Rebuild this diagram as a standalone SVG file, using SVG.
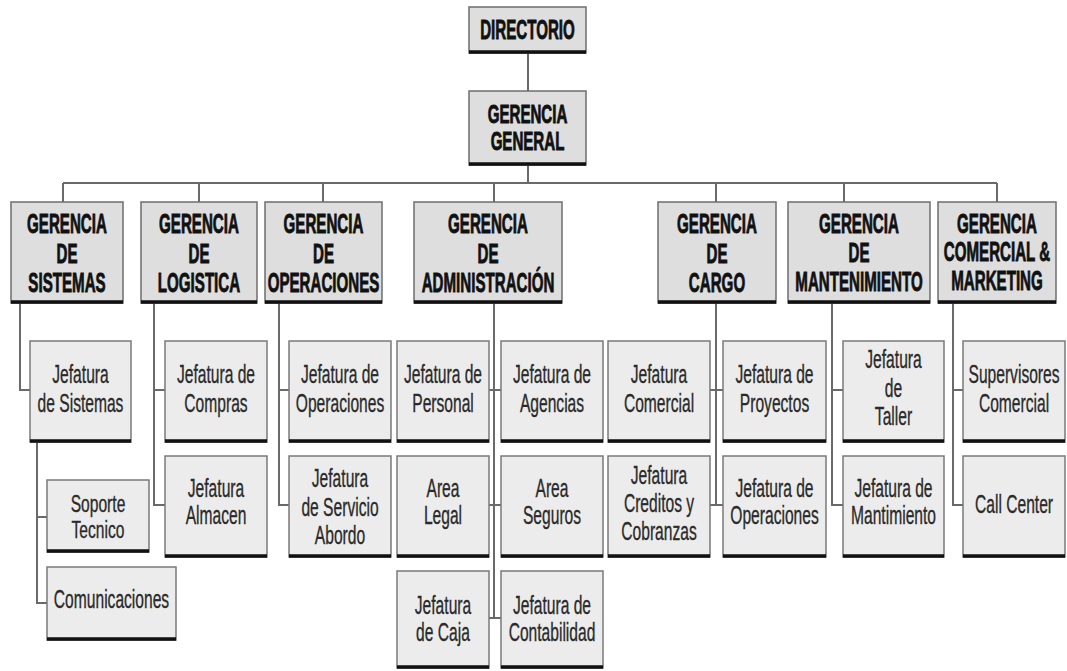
<svg xmlns="http://www.w3.org/2000/svg" width="1067" height="671" viewBox="0 0 1067 671">
<style>
.bg{fill:#ffffff}
.b1{fill:#dedede;stroke:#6e6e6e;stroke-width:1.5}
.b3{fill:#ececec;stroke:#7a7a7a;stroke-width:1.5}
.sh{stroke:#111;stroke-width:3.5;fill:none}
.ln{stroke:#6a6a6a;stroke-width:2;fill:none}
.h{font-family:"Liberation Sans",Arial,sans-serif;font-weight:bold;font-size:28px;fill:#111;stroke:#111;stroke-width:0.9;text-anchor:middle}
.t{font-family:"Liberation Sans",Arial,sans-serif;font-size:26px;fill:#2a2a2a;stroke:#2a2a2a;stroke-width:0.35;text-anchor:middle}
.s{font-size:26px}
.xs{font-size:24px}
</style>
<rect class="bg" x="0" y="0" width="1067" height="671"/>
<g id="connectors">
<path class="ln" d="M528 53V91M528 165V183M63 183H997M63 183V202M199 183V202M323 183V202M494 183V202M716 183V202M844 183V202M997 183V202"/>
<path class="ln" d="M20 303V390H30"/>
<path class="ln" d="M37 442V603H47M37 517H47"/>
<path class="ln" d="M154 303V505H165M154 390H165"/>
<path class="ln" d="M279 303V505H289M279 390H289"/>
<path class="ln" d="M494 303V618M489 390H501M489 505H501M489 618H501"/>
<path class="ln" d="M716 303V505M710 390H723M710 505H723"/>
<path class="ln" d="M832 303V505H843M832 390H843"/>
<path class="ln" d="M953 303V505H963M953 390H963"/>
</g>
<g id="directorio">
<rect class="b1" x="469" y="7" width="117" height="46"/><path class="sh" d="M469 52H586"/>
<text class="h" transform="translate(527.5 0) scale(0.54 1)" y="39">DIRECTORIO</text>
</g>
<g id="gerencia-general">
<rect class="b1" x="469" y="91" width="117" height="74"/><path class="sh" d="M469 164H586"/>
<text class="h s" transform="translate(527.5 0) scale(0.58 1)"><tspan x="0" y="123">GERENCIA</tspan><tspan x="0" y="150">GENERAL</tspan></text>
</g>
<g id="g-sistemas">
<rect class="b1" x="11" y="202" width="112" height="101"/><path class="sh" d="M11 302H123"/>
<text class="h" transform="translate(67 0) scale(0.54 1)"><tspan x="0" y="233">GERENCIA</tspan><tspan x="0" y="263">DE</tspan><tspan x="0" y="292">SISTEMAS</tspan></text>
</g>
<g id="g-logistica">
<rect class="b1" x="141" y="202" width="116" height="101"/><path class="sh" d="M141 302H257"/>
<text class="h" transform="translate(199 0) scale(0.54 1)"><tspan x="0" y="233">GERENCIA</tspan><tspan x="0" y="263">DE</tspan><tspan x="0" y="292">LOGISTICA</tspan></text>
</g>
<g id="g-operaciones">
<rect class="b1" x="265" y="202" width="117" height="101"/><path class="sh" d="M265 302H382"/>
<text class="h" transform="translate(323.5 0) scale(0.54 1)"><tspan x="0" y="233">GERENCIA</tspan><tspan x="0" y="263">DE</tspan><tspan x="0" y="292">OPERACIONES</tspan></text>
</g>
<g id="g-administracion">
<rect class="b1" x="414" y="202" width="148" height="101"/><path class="sh" d="M414 302H562"/>
<text class="h" transform="translate(488 0) scale(0.54 1)"><tspan x="0" y="233">GERENCIA</tspan><tspan x="0" y="263">DE</tspan><tspan x="0" y="292">ADMINISTRACIÓN</tspan></text>
</g>
<g id="g-cargo">
<rect class="b1" x="658" y="202" width="118" height="101"/><path class="sh" d="M658 302H776"/>
<text class="h" transform="translate(717 0) scale(0.54 1)"><tspan x="0" y="233">GERENCIA</tspan><tspan x="0" y="263">DE</tspan><tspan x="0" y="292">CARGO</tspan></text>
</g>
<g id="g-mantenimiento">
<rect class="b1" x="788" y="202" width="142" height="101"/><path class="sh" d="M788 302H930"/>
<text class="h" transform="translate(859 0) scale(0.54 1)"><tspan x="0" y="233">GERENCIA</tspan><tspan x="0" y="262">DE</tspan><tspan x="0" y="291">MANTENIMIENTO</tspan></text>
</g>
<g id="g-comercial">
<rect class="b1" x="938" y="202" width="118" height="101"/><path class="sh" d="M938 302H1056"/>
<text class="h" transform="translate(997 0) scale(0.54 1)"><tspan x="0" y="233">GERENCIA</tspan><tspan x="0" y="261">COMERCIAL &amp;</tspan><tspan x="0" y="290">MARKETING</tspan></text>
</g>
<g id="j-sistemas">
<rect class="b3" x="30" y="341" width="101" height="101"/><path class="sh" d="M30 441H131"/>
<text class="t" transform="translate(80.5 0) scale(0.6 1)"><tspan x="0" y="383">Jefatura</tspan><tspan x="0" y="412">de Sistemas</tspan></text>
</g>
<g id="soporte-tecnico">
<rect class="b3" x="47" y="480" width="102" height="72"/><path class="sh" d="M47 551H149"/>
<text class="t xs" transform="translate(98 0) scale(0.65 1)"><tspan x="0" y="512">Soporte</tspan><tspan x="0" y="538">Tecnico</tspan></text>
</g>
<g id="comunicaciones">
<rect class="b3" x="47" y="567" width="129" height="73"/><path class="sh" d="M47 639H176"/>
<text class="t" transform="translate(111.5 0) scale(0.6 1)" y="608">Comunicaciones</text>
</g>
<g id="j-compras">
<rect class="b3" x="165" y="341" width="102" height="101"/><path class="sh" d="M165 441H267"/>
<text class="t" transform="translate(216 0) scale(0.6 1)"><tspan x="0" y="383">Jefatura de</tspan><tspan x="0" y="412">Compras</tspan></text>
</g>
<g id="j-almacen">
<rect class="b3" x="165" y="456" width="102" height="101"/><path class="sh" d="M165 556H267"/>
<text class="t" transform="translate(216 0) scale(0.6 1)"><tspan x="0" y="497">Jefatura</tspan><tspan x="0" y="524">Almacen</tspan></text>
</g>
<g id="j-operaciones">
<rect class="b3" x="289" y="341" width="102" height="101"/><path class="sh" d="M289 441H391"/>
<text class="t" transform="translate(340 0) scale(0.6 1)"><tspan x="0" y="383">Jefatura de</tspan><tspan x="0" y="412">Operaciones</tspan></text>
</g>
<g id="j-servicio-abordo">
<rect class="b3" x="289" y="456" width="102" height="101"/><path class="sh" d="M289 556H391"/>
<text class="t" transform="translate(340 0) scale(0.6 1)"><tspan x="0" y="487">Jefatura</tspan><tspan x="0" y="516">de Servicio</tspan><tspan x="0" y="544">Abordo</tspan></text>
</g>
<g id="j-personal">
<rect class="b3" x="397" y="341" width="92" height="101"/><path class="sh" d="M397 441H489"/>
<text class="t" transform="translate(443 0) scale(0.6 1)"><tspan x="0" y="383">Jefatura de</tspan><tspan x="0" y="412">Personal</tspan></text>
</g>
<g id="area-legal">
<rect class="b3" x="397" y="456" width="92" height="101"/><path class="sh" d="M397 556H489"/>
<text class="t" transform="translate(443 0) scale(0.6 1)"><tspan x="0" y="497">Area</tspan><tspan x="0" y="524">Legal</tspan></text>
</g>
<g id="j-caja">
<rect class="b3" x="397" y="571" width="92" height="97"/><path class="sh" d="M397 667H489"/>
<text class="t" transform="translate(443 0) scale(0.6 1)"><tspan x="0" y="614">Jefatura</tspan><tspan x="0" y="641">de Caja</tspan></text>
</g>
<g id="j-agencias">
<rect class="b3" x="501" y="341" width="102" height="101"/><path class="sh" d="M501 441H603"/>
<text class="t" transform="translate(552 0) scale(0.6 1)"><tspan x="0" y="383">Jefatura de</tspan><tspan x="0" y="412">Agencias</tspan></text>
</g>
<g id="area-seguros">
<rect class="b3" x="501" y="456" width="102" height="101"/><path class="sh" d="M501 556H603"/>
<text class="t" transform="translate(552 0) scale(0.6 1)"><tspan x="0" y="497">Area</tspan><tspan x="0" y="524">Seguros</tspan></text>
</g>
<g id="j-contabilidad">
<rect class="b3" x="501" y="571" width="102" height="97"/><path class="sh" d="M501 667H603"/>
<text class="t" transform="translate(552 0) scale(0.6 1)"><tspan x="0" y="614">Jefatura de</tspan><tspan x="0" y="641">Contabilidad</tspan></text>
</g>
<g id="j-comercial">
<rect class="b3" x="608" y="341" width="102" height="101"/><path class="sh" d="M608 441H710"/>
<text class="t" transform="translate(659 0) scale(0.6 1)"><tspan x="0" y="383">Jefatura</tspan><tspan x="0" y="412">Comercial</tspan></text>
</g>
<g id="j-creditos">
<rect class="b3" x="608" y="456" width="102" height="101"/><path class="sh" d="M608 556H710"/>
<text class="t" transform="translate(659 0) scale(0.6 1)"><tspan x="0" y="484">Jefatura</tspan><tspan x="0" y="512">Creditos y</tspan><tspan x="0" y="540">Cobranzas</tspan></text>
</g>
<g id="j-proyectos">
<rect class="b3" x="723" y="341" width="103" height="101"/><path class="sh" d="M723 441H826"/>
<text class="t" transform="translate(774.5 0) scale(0.6 1)"><tspan x="0" y="383">Jefatura de</tspan><tspan x="0" y="412">Proyectos</tspan></text>
</g>
<g id="j-operaciones-cargo">
<rect class="b3" x="723" y="456" width="103" height="101"/><path class="sh" d="M723 556H826"/>
<text class="t" transform="translate(774.5 0) scale(0.6 1)"><tspan x="0" y="497">Jefatura de</tspan><tspan x="0" y="524">Operaciones</tspan></text>
</g>
<g id="j-taller">
<rect class="b3" x="843" y="341" width="101" height="101"/><path class="sh" d="M843 441H944"/>
<text class="t" transform="translate(893.5 0) scale(0.6 1)"><tspan x="0" y="368">Jefatura</tspan><tspan x="0" y="397">de</tspan><tspan x="0" y="425">Taller</tspan></text>
</g>
<g id="j-mantimiento">
<rect class="b3" x="843" y="456" width="101" height="101"/><path class="sh" d="M843 556H944"/>
<text class="t" transform="translate(893.5 0) scale(0.6 1)"><tspan x="0" y="497">Jefatura de</tspan><tspan x="0" y="524">Mantimiento</tspan></text>
</g>
<g id="supervisores">
<rect class="b3" x="963" y="341" width="102" height="101"/><path class="sh" d="M963 441H1065"/>
<text class="t" transform="translate(1014 0) scale(0.6 1)"><tspan x="0" y="383">Supervisores</tspan><tspan x="0" y="412">Comercial</tspan></text>
</g>
<g id="call-center">
<rect class="b3" x="963" y="456" width="102" height="101"/><path class="sh" d="M963 556H1065"/>
<text class="t" transform="translate(1014 0) scale(0.6 1)" y="513">Call Center</text>
</g>
</svg>
